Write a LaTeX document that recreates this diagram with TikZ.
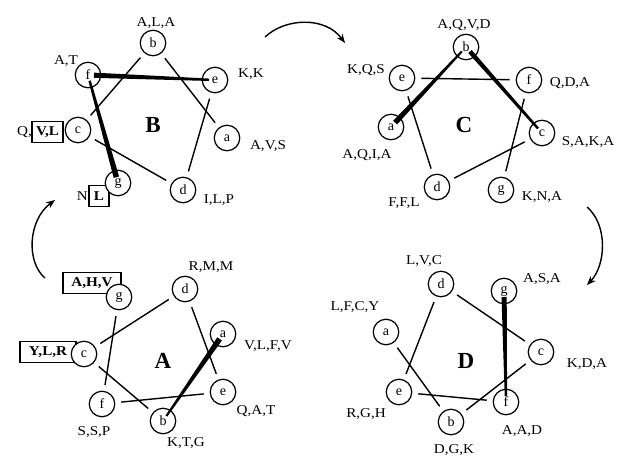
\documentclass[tikz,border=0pt]{standalone}
\usepackage{fontspec}
\setmainfont{Liberation Serif}
\newfontfamily\labfont[FakeStretch=1.12]{Liberation Serif}
\usetikzlibrary{calc,arrows.meta}
\newcommand{\wedgeline}[4]{%
  \path ($(#1.center)!6pt!(#2.center)$) coordinate (wA)
        ($(#2.center)!6pt!(#1.center)$) coordinate (wB);
  \fill ($(wA)!#3!90:(wB)$) -- ($(wB)!#4!-90:(wA)$) -- ($(wB)!#4!90:(wA)$) -- ($(wA)!#3!-90:(wB)$) -- cycle;}
\begin{document}
\begin{tikzpicture}[x=1pt,y=-1pt,
  res/.style={circle,draw,fill=white,line width=1.2pt,minimum size=25.5pt,inner sep=0pt,font=\fontsize{14}{14}\selectfont},
  lab/.style={inner sep=0pt,font=\labfont\fontsize{13.5}{13.5}\selectfont},
  boxlab/.style={draw,line width=1.2pt,inner xsep=3pt,inner ysep=0pt,minimum height=21pt,font=\labfont\bfseries\fontsize{13.5}{13.5}\selectfont},
  big/.style={inner sep=0pt,font=\fontsize{23}{23}\selectfont\bfseries},
  link/.style={line width=1.4pt,shorten <=6pt,shorten >=6pt},
  flow/.style={line width=1.4pt,-{Stealth[length=9pt,width=7pt]}}]
\useasboundingbox (0,0) rectangle (619,458);

% boxed labels (drawn first)
\node[boxlab,minimum width=31pt] (bxVL) at (47.5,132) {V,L};
\node[boxlab,minimum width=20pt] (bxL) at (99,196) {L};
\node[boxlab,minimum width=58pt] (bxAHV) at (92,283) {A,H,V};
\node[boxlab,minimum width=56pt] (bxYLR) at (48,352) {Y,L,R};

% ---------- wheel B ----------
\node[res] (bB) at (153,43) {b};
\node[res] (eB) at (215,80) {e};
\node[res] (aB) at (227,138) {a};
\node[res] (dB) at (183,190) {d};
\node[res] (gB) at (118,183) {g};
\node[res] (cB) at (78,130) {c};
\node[res] (fB) at (88,75) {f};
\draw[link] (aB) -- (bB);
\draw[link] (bB) -- (cB);
\draw[link] (cB) -- (dB);
\draw[link] (dB) -- (eB);
\wedgeline{eB}{fB}{1.2pt}{2.6pt}
\wedgeline{fB}{gB}{1.2pt}{2.8pt}
\node[big] (lB) at (153,125) {B};
\node[lab] (tbB) at (156,23) {A,L,A};
\node[lab] (tfB) at (66,61) {A,T};
\node[lab] (teB) at (251,74) {K,K};
\node[lab] (taB) at (268,146) {A,V,S};
\node[lab] (tdB) at (219,200) {I,L,P};
\node[lab,anchor=east] (tcB) at (32,132) {Q,};
\node[lab,anchor=east] (tgB) at (88,196) {N};

% ---------- wheel C ----------
\node[res] (bC) at (466,47) {b};
\node[res] (eC) at (402,78) {e};
\node[res] (fC) at (529,80) {f};
\node[res] (aC) at (391,127) {a};
\node[res] (cC) at (542,133) {c};
\node[res] (dC) at (437,187) {d};
\node[res] (gC) at (501,190) {g};
\draw[link] (cC) -- (dC);
\draw[link] (dC) -- (eC);
\draw[link] (eC) -- (fC);
\draw[link] (fC) -- (gC);
\wedgeline{aC}{bC}{2.7pt}{1.0pt}
\wedgeline{bC}{cC}{2.3pt}{1.2pt}
\node[big] (lC) at (464,125) {C};
\node[lab] (tbC) at (464,25) {A,Q,V,D};
\node[lab] (teC) at (366,70) {K,Q,S};
\node[lab] (tfC) at (570,83) {Q,D,A};
\node[lab] (taC) at (367,155) {A,Q,I,A};
\node[lab] (tcC) at (588,142) {S,A,K,A};
\node[lab] (tdC) at (404,203) {F,F,L};
\node[lab] (tgC) at (542,197) {K,N,A};

% ---------- wheel A ----------
\node[res] (dA) at (185,289) {d};
\node[res] (gA) at (119,297) {g};
\node[res] (aA) at (223,334) {a};
\node[res] (cA) at (84,354) {c};
\node[res] (eA) at (223,392) {e};
\node[res] (fA) at (102,404) {f};
\node[res] (bA) at (163,421) {b};
\draw[link] (bA) -- (cA);
\draw[link] (cA) -- (dA);
\draw[link] (dA) -- (eA);
\draw[link] (eA) -- (fA);
\draw[link] (fA) -- (gA);
\wedgeline{aA}{bA}{2.8pt}{1.0pt}
\node[big] (lA) at (163,361) {A};
\node[lab] (tdA) at (211,267) {R,M,M};
\node[lab] (taA) at (268,346) {V,L,F,V};
\node[lab] (teA) at (256,411) {Q,A,T};
\node[lab] (tfA) at (94,432) {S,S,P};
\node[lab] (tbA) at (186,443) {K,T,G};

% ---------- wheel D ----------
\node[res] (dD) at (441,284) {d};
\node[res] (gD) at (504,291) {g};
\node[res] (aD) at (386,332) {a};
\node[res] (cD) at (541,352) {c};
\node[res] (eD) at (399,392) {e};
\node[res] (fD) at (506,402) {f};
\node[res] (bD) at (451,422) {b};
\draw[link] (aD) -- (bD);
\draw[link] (bD) -- (cD);
\draw[link] (cD) -- (dD);
\draw[link] (dD) -- (eD);
\draw[link] (eD) -- (fD);
\wedgeline{gD}{fD}{2.6pt}{1.2pt}
\node[big] (lD) at (466,361) {D};
\node[lab] (tdD) at (424,261) {L,V,C};
\node[lab] (tgD) at (542,279) {A,S,A};
\node[lab] (taD) at (355,307) {L,F,C,Y};
\node[lab] (tcD) at (587,364) {K,D,A};
\node[lab] (teD) at (366,414) {R,G,H};
\node[lab] (tfD) at (522,431) {A,A,D};
\node[lab] (tbD) at (454,450) {D,G,K};

% ---------- cycle arrows ----------
\coordinate (r1s) at (265,37);
\coordinate (r1e) at (345,43);
\coordinate (r2s) at (587,207);
\coordinate (r2e) at (587,285);
\coordinate (r3s) at (45,278);
\coordinate (r3e) at (55,200);
\draw[flow] (r1s) .. controls (285,18) and (325,16) .. (r1e);
\draw[flow] (r2s) .. controls (608,225) and (606,265) .. (r2e);
\draw[flow] (r3s) .. controls (26,262) and (28,220) .. (r3e);
\end{tikzpicture}
\end{document}
